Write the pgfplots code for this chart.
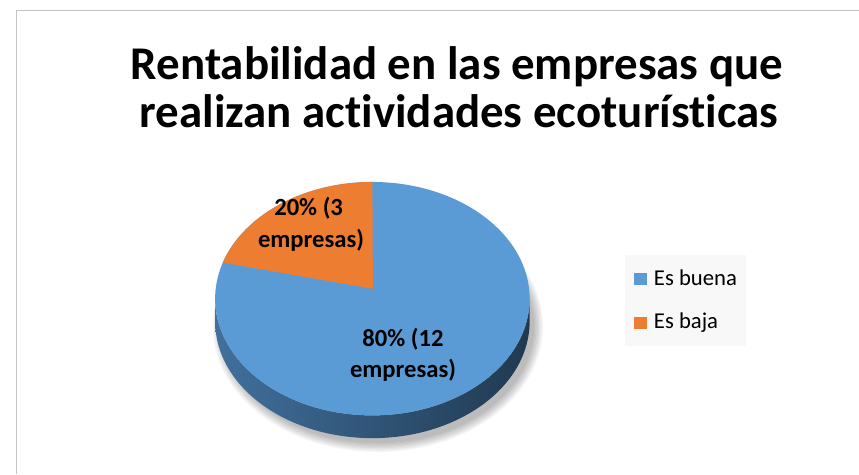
\documentclass[border=0pt]{standalone}
\usepackage{fontspec}
\setmainfont{Carlito}[Ligatures=NoCommon]
\usepackage{pgfplots}
\usepackage{pgfplotstable}
\pgfplotsset{compat=1.18}
\definecolor{buena}{HTML}{5B9BD5}
\definecolor{baja}{HTML}{ED7D31}
\definecolor{sideL}{HTML}{41709D}
\definecolor{sideR}{HTML}{203950}
\definecolor{legbg}{HTML}{F8F8F8}
\definecolor{framec}{HTML}{C4C4C4}

\pgfplotstableread{
label value
Es_buena 12
Es_baja 3
}\datatable

\begin{document}
\pgfplotstablegetelem{0}{value}\of\datatable \let\vA\pgfplotsretval
\pgfplotstablegetelem{1}{value}\of\datatable \let\vB\pgfplotsretval
\pgfmathsetmacro\total{\vA+\vB}
\pgfmathtruncatemacro\pA{round(100*\vA/\total)}
\pgfmathtruncatemacro\pB{round(100*\vB/\total)}
\pgfmathsetmacro\angB{90+360*\vB/\total}
\begin{tikzpicture}
\begin{axis}[
  x=1bp, y=1bp, xmin=0, xmax=859, ymin=0, ymax=479,
  scale only axis, hide axis, clip=false,
  legend style={at={(axis cs:623,221)}, anchor=north west, draw=none, fill=legbg,
    font=\fontsize{23}{27}\selectfont, inner xsep=9bp, inner ysep=13bp, row sep=22bp,
    nodes={inner sep=0pt, text height=17bp, text depth=5bp}},
  legend cell align=left,
  legend image code/.code={\fill (0bp,-6bp) rectangle (13bp,6bp); \path (20bp,0bp);},
]
\path[fill=white] (axis cs:0,0) rectangle (axis cs:859,479);
\draw[framec, line width=1bp] (axis cs:8,0) -- (axis cs:8,468.5) -- (axis cs:859,468.5);
\addlegendimage{fill=buena, draw=none}
\addlegendentry{Es buena}
\addlegendimage{fill=baja, draw=none}
\addlegendentry{Es baja}
% soft shadow
\pgfplotsinvokeforeach{0,...,7}{
  \fill[black, opacity=0.035] (axis cs:373,149) ellipse[x radius=158bp+#1*1.3bp, y radius=118bp+#1*1.3bp];
}
% side
\shade[left color=sideL, right color=sideR]
  (axis cs:208.5,177) -- (axis cs:208.5,154)
  arc[start angle=180, end angle=360, x radius=159bp, y radius=118bp]
  -- (axis cs:526.5,177)
  arc[start angle=360, end angle=180, x radius=159bp, y radius=118bp] -- cycle;
% top face
\fill[buena] (axis cs:367.5,177) ellipse[x radius=159bp, y radius=118bp];
\fill[baja] (axis cs:368,187) -- (axis cs:367.5,295)
  arc[start angle=90, end angle=\angB, x radius=159bp, y radius=118bp] -- cycle;
% labels
\node[font=\fontsize{25}{30}\selectfont\bfseries, anchor=base] at (axis cs:303,261) {\pB\% (\vB};
\node[font=\fontsize{25}{30}\selectfont\bfseries, anchor=base] at (axis cs:305.5,229) {empresas)};
\node[font=\fontsize{25}{30}\selectfont\bfseries, anchor=base] at (axis cs:398.5,129) {\pA\% (\vA};
\node[font=\fontsize{25}{30}\selectfont\bfseries, anchor=base] at (axis cs:398.5,97) {empresas)};
% title
\node[font=\fontsize{47.6}{50}\selectfont\bfseries, anchor=base] at (axis cs:453,398.3)
  {Rentabilidad en las empresas que};
\node[font=\fontsize{47.6}{50}\selectfont\bfseries, anchor=base] at (axis cs:455,350)
  {realizan actividades ecoturísticas};
\end{axis}
\end{tikzpicture}
\end{document}
